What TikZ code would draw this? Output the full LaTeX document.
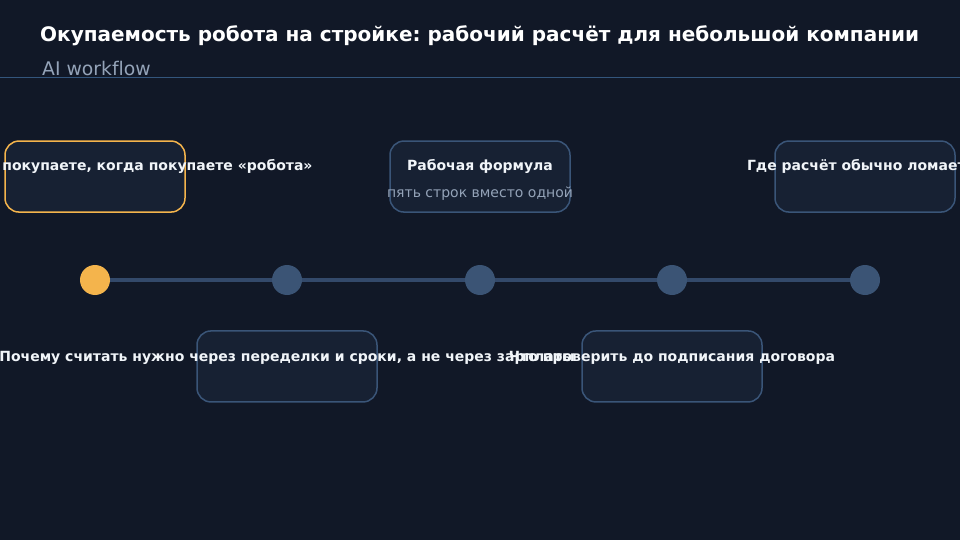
\documentclass[tikz,border=0pt]{standalone}
\usepackage{fontspec}
\setmainfont[Ligatures=NoCommon]{DejaVu Sans}
\frenchspacing
\usetikzlibrary{
    positioning,    % For relative node placement
    calc            % For offsets from node centres
}
\definecolor{bgdark}{HTML}{111827}
\definecolor{boxfill}{HTML}{172133}
\definecolor{boxline}{HTML}{3A5578}
\definecolor{ruleline}{HTML}{33557C}
\definecolor{trackline}{HTML}{33496A}
\definecolor{dotfill}{HTML}{3B5475}
\definecolor{accent}{HTML}{F4B44C}
\definecolor{subgray}{HTML}{94A3B8}
\definecolor{textwhite}{HTML}{F1F5F9}

\begin{document}
\begin{tikzpicture}[
    x=1pt, y=-1pt, % One unit per pixel, y downwards
    % Styles
    step_box/.style={ % Rounded card above or below the track
        rectangle,
        rounded corners=14pt,
        draw=boxline,
        line width=1.5pt,
        fill=boxfill,
        minimum width=180pt,
        minimum height=71pt
    },
    step_dot/.style={ % Milestone on the track
        circle,
        fill=dotfill,
        minimum size=30pt,
        inner sep=0pt
    },
    head_text/.style={ % Card heading
        font=\bfseries\fontsize{14}{16}\selectfont,
        text=textwhite,
        anchor=base,
        inner sep=0pt
    },
    sub_text/.style={ % Card sub-line
        font=\fontsize{14}{16}\selectfont,
        text=subgray,
        anchor=base,
        inner sep=0pt
    }
]

% --- Canvas ---
\fill[bgdark] (0,0) rectangle (960,540);
\useasboundingbox (0,0) rectangle (960,540);

% --- Header ---
\node[font=\bfseries\fontsize{20}{24}\selectfont, text=white, anchor=base west, inner sep=0pt] (title) at (40,42) {Окупаемость робота на стройке: рабочий расчёт для небольшой компании};
\node[font=\fontsize{18.8}{22}\selectfont, text=subgray, anchor=base west, inner sep=0pt] (subtitle) at (42,76) {AI workflow};
\coordinate (rule_l) at (0,78);
\coordinate (rule_r) at (960,78);
\draw[ruleline, line width=1pt] (rule_l) -- (rule_r);

% --- Track ---
\coordinate (t1) at (95,280);
\coordinate (t5) at (865,280);
\draw[trackline, line width=4pt] (t1) -- (t5);
\node[step_dot, fill=accent] (d1) at (t1) {};
\node[step_dot] (d2) at (287,280) {};
\node[step_dot] (d3) at (480,280) {};
\node[step_dot] (d4) at (672,280) {};
\node[step_dot] (d5) at (t5) {};

% --- Cards above the track ---
\node[step_box, draw=accent, above=52pt of d1] (b1) {};
\node[step_box, above=52pt of d3] (b3) {};
\node[step_box, above=52pt of d5] (b5) {};
\node[head_text] (h1) at ($(b1.center)+(0,-6.5)$) {Что именно вы покупаете, когда покупаете «робота»};
\node[head_text] (h3) at ($(b3.center)+(0,-6.5)$) {Рабочая формула};
\node[sub_text] (s3) at ($(b3.center)+(0,20.5)$) {пять строк вместо одной};
\node[head_text] (h5) at ($(b5.center)+(0,-6.5)$) {Где расчёт обычно ломается};

% --- Cards below the track ---
\node[step_box, below=35pt of d2] (b2) {};
\node[step_box, below=35pt of d4] (b4) {};
\node[head_text] (h2) at ($(b2.center)+(0,-4.5)$) {Почему считать нужно через переделки и сроки, а не через зарплаты};
\node[head_text] (h4) at ($(b4.center)+(0,-4.5)$) {Что проверить до подписания договора};

\end{tikzpicture}
\end{document}
